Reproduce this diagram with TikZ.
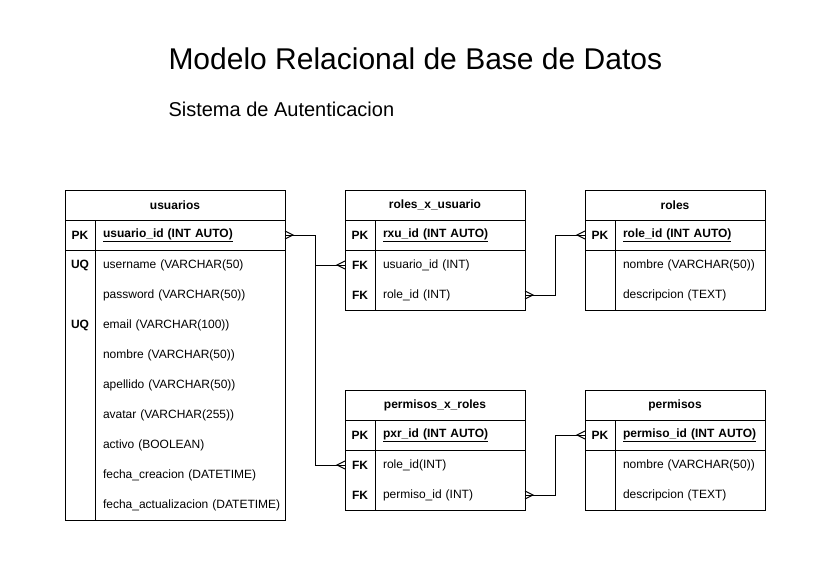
\documentclass[tikz,border=0pt]{standalone}
\usepackage{fontspec}
\setmainfont{Liberation Sans}
\usetikzlibrary{positioning}
\newcommand{\tabla}{\fontsize{12}{14}\selectfont\hyphenpenalty=10000}
\tikzset{hdr/.style={draw,minimum width=#1,minimum height=30pt,inner sep=0pt,outer sep=0pt,font=\tabla\bfseries},
         field/.style={anchor=west,text width=#1,inner xsep=8pt,inner ysep=0pt,outer sep=0pt,minimum height=30pt,align=left,font=\tabla},
         keycol/.style={minimum width=30pt,minimum height=30pt,inner sep=0pt,outer sep=0pt,font=\tabla\bfseries},
         many/.pic={\draw (0,-4) -- (8,0) -- (0,4);},}

\begin{document}
\begin{tikzpicture}[x=1pt, y=-1pt, line width=1pt]
       \fill[white] (0,0) rectangle (826,583);
       \useasboundingbox (0,0) rectangle (826,583);

       \node[anchor=base west, inner sep=0pt, font=\fontsize{30}{36}\selectfont] (titulo) at (168,70) {Modelo Relacional de Base de Datos};
       \node[anchor=base west, inner sep=0pt, font=\fontsize{20}{24}\selectfont] (subtitulo) at (168,117) {Sistema de Autenticacion};

       % usuarios
       \node[hdr=220pt] (usuarios) at (175,205) {usuarios};
       \node[field=174pt] (u1) at (95,235) {\underline{\textbf{usuario\_id (INT AUTO)}}};
       \node[field=174pt] (u2) [below=0pt of u1] {username (VARCHAR(50)};
       \node[field=174pt] (u3) [below=0pt of u2] {password (VARCHAR(50))};
       \node[field=174pt] (u4) [below=0pt of u3] {email (VARCHAR(100))};
       \node[field=174pt] (u5) [below=0pt of u4] {nombre (VARCHAR(50))};
       \node[field=174pt] (u6) [below=0pt of u5] {apellido (VARCHAR(50))};
       \node[field=174pt] (u7) [below=0pt of u6] {avatar (VARCHAR(255))};
       \node[field=174pt] (u8) [below=0pt of u7] {activo (BOOLEAN)};
       \node[field=174pt] (u9) [below=0pt of u8] {fecha\_creacion (DATETIME)};
       \node[field=174pt] (u10) [below=0pt of u9] {\mbox{fecha\_actualizacion (DATETIME)}};
       \node[keycol] (uk1) [left=0pt of u1] {PK};
       \node[keycol] (uk2) [left=0pt of u2] {UQ};
       \node[keycol] (uk4) [left=0pt of u4] {UQ};
       \draw (usuarios.north west) rectangle (u10.south east);
       \draw (uk1.south west) -- (u1.south east);
       \draw (uk1.north east) -- (u10.south west);

       % roles_x_usuario
       \node[hdr=180pt] (rxu) at (435,205) {roles\_x\_usuario};
       \node[field=134pt] (r1) at (375,235) {\underline{\textbf{rxu\_id (INT AUTO)}}};
       \node[field=134pt] (r2) [below=0pt of r1] {usuario\_id (INT)};
       \node[field=134pt] (r3) [below=0pt of r2] {role\_id (INT)};
       \node[keycol] (rk1) [left=0pt of r1] {PK};
       \node[keycol] (rk2) [left=0pt of r2] {FK};
       \node[keycol] (rk3) [left=0pt of r3] {FK};
       \draw (rxu.north west) rectangle (r3.south east);
       \draw (rk1.south west) -- (r1.south east);
       \draw (rk1.north east) -- (rk3.south east);

       % roles
       \node[hdr=180pt] (roles) at (675,205) {roles};
       \node[field=134pt] (rl1) at (615,235) {\underline{\textbf{role\_id (INT AUTO)}}};
       \node[field=134pt] (rl2) [below=0pt of rl1] {nombre (VARCHAR(50))};
       \node[field=134pt] (rl3) [below=0pt of rl2] {descripcion (TEXT)};
       \node[keycol] (rlk1) [left=0pt of rl1] {PK};
       \draw (roles.north west) rectangle (rl3.south east);
       \draw (rlk1.south west) -- (rl1.south east);
       \draw (rlk1.north east) -- (rl3.south west);

       % permisos_x_roles
       \node[hdr=180pt] (pxr) at (435,405) {permisos\_x\_roles};
       \node[field=134pt] (p1) at (375,435) {\underline{\textbf{pxr\_id (INT AUTO)}}};
       \node[field=134pt] (p2) [below=0pt of p1] {role\_id(INT)};
       \node[field=134pt] (p3) [below=0pt of p2] {permiso\_id (INT)};
       \node[keycol] (pk1) [left=0pt of p1] {PK};
       \node[keycol] (pk2) [left=0pt of p2] {FK};
       \node[keycol] (pk3) [left=0pt of p3] {FK};
       \draw (pxr.north west) rectangle (p3.south east);
       \draw (pk1.south west) -- (p1.south east);
       \draw (pk1.north east) -- (pk3.south east);

       % permisos
       \node[hdr=180pt] (permisos) at (675,405) {permisos};
       \node[field=134pt] (pm1) at (615,435) {\underline{\textbf{permiso\_id (INT AUTO)}}};
       \node[field=134pt] (pm2) [below=0pt of pm1] {nombre (VARCHAR(50))};
       \node[field=134pt] (pm3) [below=0pt of pm2] {descripcion (TEXT)};
       \node[keycol] (pmk1) [left=0pt of pm1] {PK};
       \draw (permisos.north west) rectangle (pm3.south east);
       \draw (pmk1.south west) -- (pm1.south east);
       \draw (pmk1.north east) -- (pm3.south west);

       % relaciones
       \draw (u1.east) -- ++(30,0) |- (rk2.west);
       \draw (u1.east) -- ++(30,0) |- (pk2.west);
       \draw (r3.east) -- ++(30,0) |- (rlk1.west);
       \draw (p3.east) -- ++(30,0) |- (pmk1.west);
       \pic at (u1.east) {many};
       \pic[rotate=180] at (rk2.west) {many};
       \pic[rotate=180] at (pk2.west) {many};
       \pic at (r3.east) {many};
       \pic[rotate=180] at (rlk1.west) {many};
       \pic at (p3.east) {many};
       \pic[rotate=180] at (pmk1.west) {many};
\end{tikzpicture}
\end{document}
